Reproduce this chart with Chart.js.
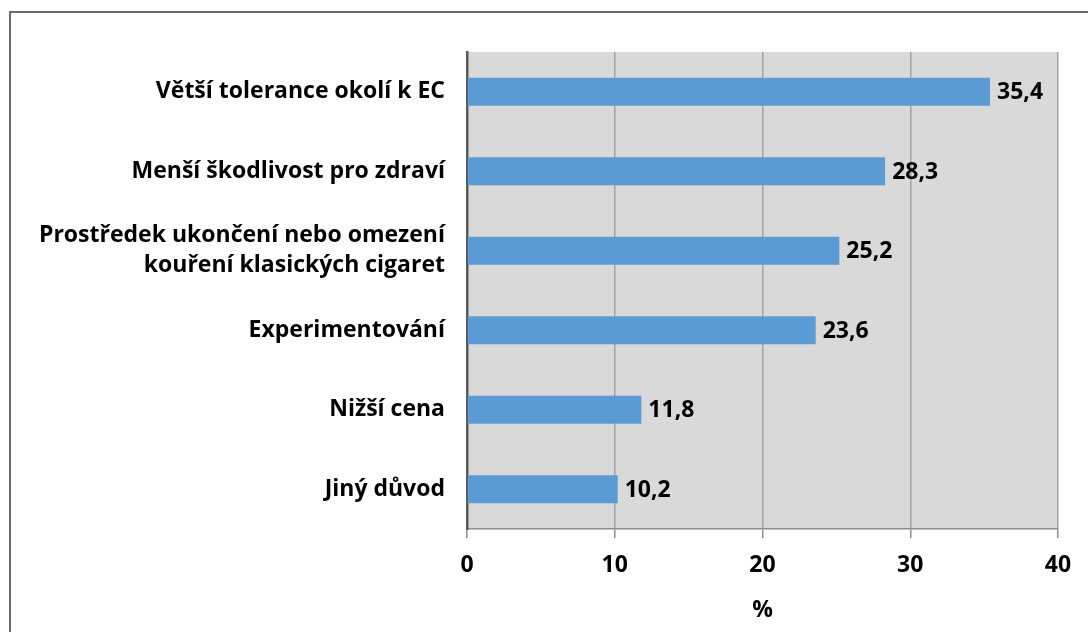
<!DOCTYPE html>
<html>
<head>
<meta charset="utf-8">
<script src="https://cdn.jsdelivr.net/npm/chart.js@4/dist/chart.umd.min.js"></script>
<style>
  html, body { margin: 0; padding: 0; background: #fff; }
  #wrap { position: relative; width: 1088px; height: 632px; overflow: hidden; }
  #frame { position: absolute; left: 9px; top: 11px; width: 1200px; height: 800px; border: 2px solid #6a6a6a; box-sizing: border-box; }
  canvas { position: absolute; left: 0; top: 0; }
</style>
</head>
<body>
<div id="wrap">
  <div id="frame"></div>
  <canvas id="chart" width="1088" height="632"></canvas>
</div>
<script>
const categories = [
    'Větší tolerance okolí k EC',
    'Menší škodlivost pro zdraví',
    ['Prostředek ukončení nebo omezení', 'kouření klasických cigaret'],
    'Experimentování',
    'Nižší cena',
    'Jiný důvod'
];
const percentValues = [35.4, 28.3, 25.2, 23.6, 11.8, 10.2];
const xTicks = [0, 10, 20, 30, 40];

const FONT = '"Open Sans", "Noto Sans", sans-serif';
const FSIZE = 23;

// gray plot background
const plotBg = {
    id: 'plotBg',
    beforeDraw(chart) {
        const { ctx, chartArea: a } = chart;
        ctx.save();
        ctx.fillStyle = '#d9d9d9';
        ctx.fillRect(a.left, a.top, a.right - a.left, a.bottom - a.top);
        ctx.restore();
    }
};

// value labels right of each bar, with decimal comma
const valueLabels = {
    id: 'valueLabels',
    afterDatasetsDraw(chart) {
        const { ctx } = chart;
        const meta = chart.getDatasetMeta(0);
        ctx.save();
        ctx.font = 'bold ' + FSIZE + 'px ' + FONT;
        ctx.fillStyle = '#000';
        ctx.textAlign = 'left';
        ctx.textBaseline = 'middle';
        meta.data.forEach((bar, i) => {
            const txt = percentValues[i].toFixed(1).replace('.', ',');
            ctx.fillText(txt, bar.x + 7, bar.y + 1);
        });
        ctx.restore();
    }
};

new Chart(document.getElementById('chart'), {
    type: 'bar',
    data: {
        labels: categories,
        datasets: [{
            data: percentValues,
            backgroundColor: '#5b9bd5',
            borderWidth: 0,
            barPercentage: 0.35,
            categoryPercentage: 1
        }]
    },
    options: {
        indexAxis: 'y',
        responsive: false,
        animation: false,
        layout: { padding: { top: 52, right: 30, left: 0, bottom: 0 } },
        plugins: {
            legend: { display: false },
            tooltip: { enabled: false }
        },
        scales: {
            x: {
                min: 0,
                max: 40,
                afterBuildTicks: (scale) => { scale.ticks = xTicks.map(v => ({ value: v })); },
                afterFit: (scale) => { scale.height = 103; },
                grid: {
                    color: (c) => c.tick && c.tick.value === 0 ? 'rgba(0,0,0,0)' : '#a3a3a3',
                    lineWidth: 1.5,
                    drawTicks: true,
                    tickLength: 9,
                    tickColor: '#8c8c8c'
                },
                border: { display: true, color: '#8c8c8c', width: 1.5 },
                ticks: {
                    color: '#000',
                    padding: 14,
                    font: { family: FONT, size: FSIZE, weight: 'bold' }
                },
                title: {
                    display: true,
                    text: '%',
                    color: '#000',
                    padding: { top: 0, bottom: 8 },
                    font: { family: FONT, size: FSIZE, weight: 'bold' }
                }
            },
            y: {
                afterFit: (scale) => { scale.width = 467; },
                grid: { display: false, drawTicks: false },
                border: { display: true, color: '#595959', width: 2.5 },
                ticks: {
                    color: '#000',
                    padding: 22,
                    font: { family: FONT, size: FSIZE, weight: 'bold', lineHeight: 1.3 }
                }
            }
        }
    },
    plugins: [plotBg, valueLabels]
});
</script>
</body>
</html>
